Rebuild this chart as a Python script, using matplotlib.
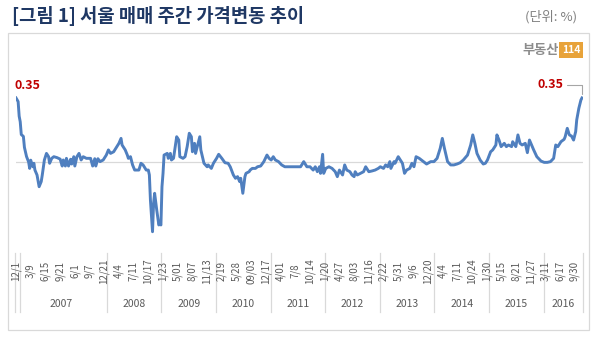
import matplotlib
matplotlib.use("Agg")
import matplotlib.pyplot as plt
from matplotlib.patches import Rectangle

plt.rcParams["font.family"] = ["Noto Sans CJK KR", "DejaVu Sans"]

# weekly price change, Seoul (%): (week index, value)
weeks = [0, 2, 3, 4, 5, 7, 8, 10, 12, 13, 14, 16, 17, 18, 20, 22, 24, 25, 27, 29,
         31, 32, 34, 36, 39, 42, 44, 45, 47, 48, 50, 52, 53, 55, 56, 58, 60, 62, 64, 67,
         71, 73, 75, 76, 78, 80, 83, 86, 88, 90, 93, 96, 98, 100, 101, 104, 106, 107, 109, 111,
         113, 117, 119, 121, 124, 126, 127, 128, 130, 131, 132, 134, 136, 137, 138, 139, 140, 141, 144, 145,
         147, 148, 150, 153, 155, 156, 159, 161, 163, 165, 167, 168, 170, 171, 175, 176, 179, 182, 183, 186,
         188, 191, 193, 196, 199, 202, 204, 207, 209, 211, 213, 214, 216, 218, 219, 222, 223, 225, 228, 230,
         233, 236, 239, 241, 243, 245, 247, 250, 253, 256, 261, 266, 271, 274, 277, 280, 283, 285, 287, 289,
         290, 292, 293, 295, 298, 301, 304, 306, 308, 311, 313, 315, 318, 320, 322, 323, 325, 328, 331, 333,
         336, 339, 342, 345, 347, 350, 352, 354, 356, 357, 360, 361, 364, 365, 368, 370, 372, 375, 377, 379,
         381, 384, 386, 388, 391, 395, 398, 401, 404, 406, 408, 411, 414, 417, 420, 423, 426, 430, 433, 435,
         437, 439, 442, 445, 447, 449, 452, 454, 457, 458, 460, 462, 465, 467, 469, 472, 473, 476, 478, 480,
         482, 485, 487, 489, 491, 493, 496, 500, 503, 506, 509, 512, 514, 516, 519, 522, 523, 525, 527, 529,
         531, 533, 534, 536, 538, 539]
change = [0.35, 0.33, 0.25, 0.22, 0.15, 0.14, 0.08, 0.03, 0.0, -0.035, 0.01, -0.026, -0.007, -0.044, -0.071, -0.135, -0.107, -0.071, 0.011, 0.047,
          0.029, -0.007, 0.02, 0.029, 0.024, 0.016, -0.022, 0.011, -0.022, 0.02, -0.022, 0.015, -0.011, 0.029, -0.022, 0.029, 0.047, 0.011, 0.029, 0.02,
          0.02, -0.022, 0.018, -0.022, 0.018, 0.002, 0.011, 0.038, 0.066, 0.047, 0.056, 0.084, 0.102, 0.129, 0.093, 0.066, 0.038, 0.02, 0.029, -0.016,
          -0.044, -0.044, -0.007, -0.016, -0.044, -0.044, -0.071, -0.208, -0.381, -0.226, -0.171, -0.262, -0.344, -0.335, -0.344, -0.135, -0.062, 0.038, 0.047, 0.02,
          0.047, 0.011, 0.02, 0.138, 0.12, 0.029, 0.02, 0.029, 0.084, 0.157, 0.138, 0.056, 0.102, 0.047, 0.138, 0.066, -0.007, -0.026, -0.016, -0.035,
          -0.007, 0.02, 0.042, 0.02, -0.004, -0.007, -0.026, -0.071, -0.089, -0.08, -0.107, -0.089, -0.171, -0.08, -0.062, -0.053, -0.044, -0.035, -0.035, -0.026,
          -0.022, 0.002, 0.038, 0.02, 0.011, 0.029, 0.011, 0.002, -0.016, -0.026, -0.026, -0.026, -0.026, 0.002, -0.026, -0.026, -0.044, -0.026, -0.053, -0.026,
          -0.062, 0.042, -0.062, -0.035, -0.026, -0.035, -0.053, -0.08, -0.044, -0.071, -0.016, -0.044, -0.053, -0.071, -0.08, -0.053, -0.071, -0.062, -0.053, -0.026,
          -0.053, -0.049, -0.044, -0.035, -0.026, -0.035, -0.016, -0.026, 0.002, -0.035, 0.002, -0.007, 0.029, 0.02, -0.007, -0.062, -0.044, -0.035, -0.007, -0.026,
          0.029, 0.02, 0.011, 0.002, -0.011, 0.002, 0.002, 0.02, 0.075, 0.129, 0.075, 0.002, -0.016, -0.016, -0.011, -0.004, 0.011, 0.038, 0.093, 0.148,
          0.102, 0.047, 0.011, -0.011, -0.007, 0.011, 0.056, 0.066, 0.093, 0.148, 0.12, 0.084, 0.102, 0.084, 0.093, 0.084, 0.111, 0.084, 0.148, 0.102,
          0.093, 0.102, 0.051, 0.12, 0.093, 0.066, 0.029, 0.005, -0.002, -0.002, 0.002, 0.02, 0.093, 0.084, 0.111, 0.124, 0.138, 0.184, 0.148, 0.142,
          0.12, 0.166, 0.23, 0.293, 0.339, 0.35]

tick_labels = ["12/1", "3/9", "6/15", "9/21", "6/1", "9/7", "12/21",
               "4/4", "7/11", "10/17",
               "1/23", "5/01", "8/07", "11/13",
               "2/19", "5/28", "09/03", "12/17",
               "4/01", "7/8", "10/14",
               "1/20", "4/27", "8/03", "11/16",
               "2/22", "5/31", "9/6", "12/20",
               "4/4", "7/11", "10/24",
               "1/30", "5/15", "8/21", "11/27",
               "3/11", "6/17", "9/30"]
tick_every = 14
years = ["2007", "2008", "2009", "2010", "2011", "2012", "2013", "2014", "2015", "2016"]
weeks_per_year = [87, 52, 52, 52, 52, 52, 52, 52, 52, 37]

fig = plt.figure(figsize=(6, 3.39), dpi=100)
W, H = 600, 339

# outer frame
fig.patches.append(Rectangle((8 / W, 1 - 330 / H), 581 / W, 297 / H, transform=fig.transFigure,
                             fill=False, edgecolor="#d9d9d9", lw=0.9))

fig.text(12 / W, 1 - 16 / H, "[그림 1] 서울 매매 주간 가격변동 추이", fontsize=13.5, fontweight="bold",
         color="#1f3864", va="center", ha="left")
fig.text(577 / W, 1 - 17 / H, "(단위: %)", fontsize=9.5, color="#808080", va="center", ha="right")
fig.text(559 / W, 1 - 50 / H, "부동산", fontsize=9.5, fontweight="heavy", color="#8c8c8c", va="center", ha="right")
fig.text(571 / W, 1 - 50 / H, "114", fontsize=7.5, fontweight="bold", color="white", va="center", ha="center",
         bbox=dict(boxstyle="square,pad=0.3", fc="#e8a33a", ec="none"))

# plot area: x from 15.5 to 582.5 px, y from 70 to 320 px (zero line at 162)
ax = fig.add_axes([15.5 / W, 1 - 320 / H, 567 / W, 250 / H])
n = sum(weeks_per_year)
ax.set_xlim(-0.5, n - 0.5)
ppu = 183.0
ax.set_ylim(-(320 - 162) / ppu, (162 - 70) / ppu)
ax.axis("off")

ax.axhline(0, color="#d9d9d9", lw=0.9, zorder=1)
ax.plot(weeks, change, color="#4f7fbf", lw=2.1, solid_joinstyle="round", zorder=3)

# callouts
ax.annotate("0.35", xy=(weeks[0], change[0]), xytext=(8, 9), textcoords="offset points",
            fontsize=9, fontweight="bold", color="#c00000", ha="center", va="center")
ax.annotate("0.35", xy=(weeks[-1], change[-1]), xytext=(-23, 9.5), textcoords="offset points",
            fontsize=9, fontweight="bold", color="#c00000", ha="center", va="center",
            arrowprops=dict(arrowstyle="-", color="#a6a6a6", lw=0.8, shrinkA=1, shrinkB=3,
                            connectionstyle="angle,angleA=0,angleB=90,rad=0"))

# category axis: date labels, year labels and separators
tr = ax.get_xaxis_transform()
for i, lab in enumerate(tick_labels):
    ax.text(i * tick_every, (320 - 271) / 250, lab, transform=tr, rotation=90, fontsize=7,
            color="#595959", ha="center", va="center")

edge = -0.5
ax.plot([edge, edge], [(320 - 253) / 250, (320 - 312) / 250], transform=tr, color="#d9d9d9", lw=0.9, clip_on=False)
ax.plot([edge + 4, edge + 4], [(320 - 253) / 250, (320 - 312) / 250], transform=tr, color="#d9d9d9", lw=0.9, clip_on=False)
for yr, cnt in zip(years, weeks_per_year):
    ax.text(edge + cnt / 2, (320 - 304) / 250, yr, transform=tr, fontsize=7.5, color="#595959",
            ha="center", va="center")
    edge += cnt
    ax.plot([edge, edge], [(320 - 253) / 250, (320 - 312) / 250], transform=tr, color="#d9d9d9", lw=0.9, clip_on=False)

fig.savefig("out.png", dpi=100)
